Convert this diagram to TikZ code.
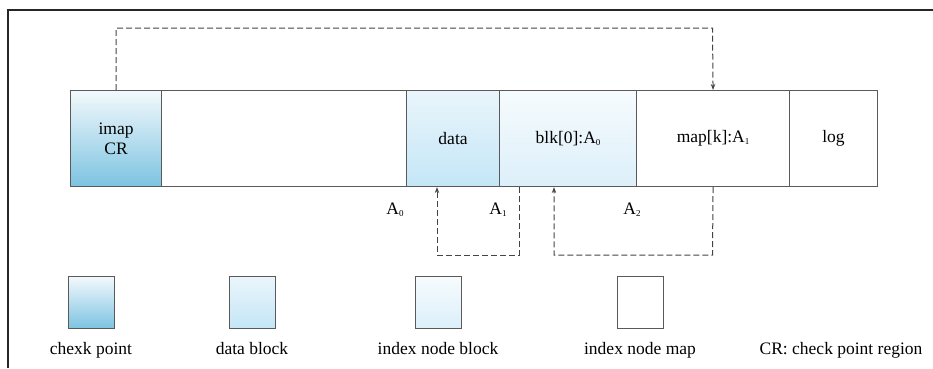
\documentclass[tikz,border=0pt]{standalone}
\usepackage{fontspec}
\setmainfont{Liberation Serif}
\usetikzlibrary{arrows.meta}
\definecolor{bordc}{HTML}{5A5A5A}
\definecolor{cpT}{HTML}{F3F9FC}
\definecolor{cpB}{HTML}{7CC3E1}
\definecolor{dbT}{HTML}{EAF5FB}
\definecolor{dbB}{HTML}{C4E6F7}
\definecolor{ibT}{HTML}{F6FBFD}
\definecolor{ibB}{HTML}{DCEFFA}
\definecolor{dashc}{HTML}{444444}
\newcommand\sbs[1]{\raisebox{-0.25ex}{\fontsize{9}{9}\selectfont #1}}
\tikzset{
  cell/.style={draw=bordc, line width=1.1pt, inner sep=0pt, anchor=north west, minimum height=96pt, align=center, font=\fontsize{17.5}{20}\selectfont},
  cpfill/.style={top color=cpT, bottom color=cpB},
  dbfill/.style={top color=dbT, bottom color=dbB},
  ibfill/.style={top color=ibT, bottom color=ibB},
  legbox/.style={draw=bordc, line width=1.1pt, inner sep=0pt, anchor=north west, minimum width=46pt, minimum height=52pt},
  lab/.style={font=\fontsize{17.5}{20}\selectfont, inner sep=0pt},
  conn/.style={draw=dashc, line width=1pt, dash pattern=on 6pt off 3pt},
  tip/.style={-{Stealth[length=6pt,width=4.5pt]}}
}
\begin{document}
\begin{tikzpicture}[x=1pt,y=-1pt]
\useasboundingbox (0,0) rectangle (933,368);
% frame
\draw[line width=1.2pt, draw=black!85] (8,368) -- (8,10) -- (933,10);
% main bar
\node[cell, cpfill, minimum width=91pt] (imap) at (70,90) {imap\\CR};
\node[cell, fill=white, minimum width=245pt] (empty) at (161,90) {};
\node[cell, dbfill, minimum width=93pt] (data) at (406,90) {data};
\node[cell, ibfill, minimum width=137pt] (blk) at (499,90) {blk[0]:A\sbs{0}};
\node[cell, fill=white, minimum width=153pt] (map) at (636,90) {map[k]:A\sbs{1}};
\node[cell, fill=white, minimum width=88pt] (log) at (789,90) {log};
% address labels
\node[lab] (a0) at (395,210) {A\sbs{0}};
\node[lab] (a1) at (498,210) {A\sbs{1}};
\node[lab] (a2) at (632,210) {A\sbs{2}};
% top connector
\coordinate (t) at (712.5,28);
\draw[conn, tip] (imap.north) |- (t) -- (map.north);
% loop 1
\coordinate (l1a) at (519,255);
\coordinate (l1b) at (437,255);
\draw[conn, tip] (blk.south -| l1a) -- (l1a) -- (l1b) -- (data.south -| l1b);
% loop 2
\coordinate (l2a) at (712.5,255);
\coordinate (l2b) at (554,255);
\draw[conn, tip] (map.south) -- (l2a) -- (l2b) -- (blk.south -| l2b);
% legend
\node[legbox, cpfill] (g1) at (68,276) {};
\node[legbox, dbfill] (g2) at (229,276) {};
\node[legbox, ibfill] (g3) at (415,276) {};
\node[legbox, fill=white] (g4) at (617,276) {};
\node[lab, anchor=base] (t1) at (91,354) {chexk point};
\node[lab, anchor=base] (t2) at (252,354) {data block};
\node[lab, anchor=base] (t3) at (438,354) {index node block};
\node[lab, anchor=base] (t4) at (640,354) {index node map};
\node[lab, anchor=base] (t5) at (841,354) {CR: check point region};
\end{tikzpicture}
\end{document}
